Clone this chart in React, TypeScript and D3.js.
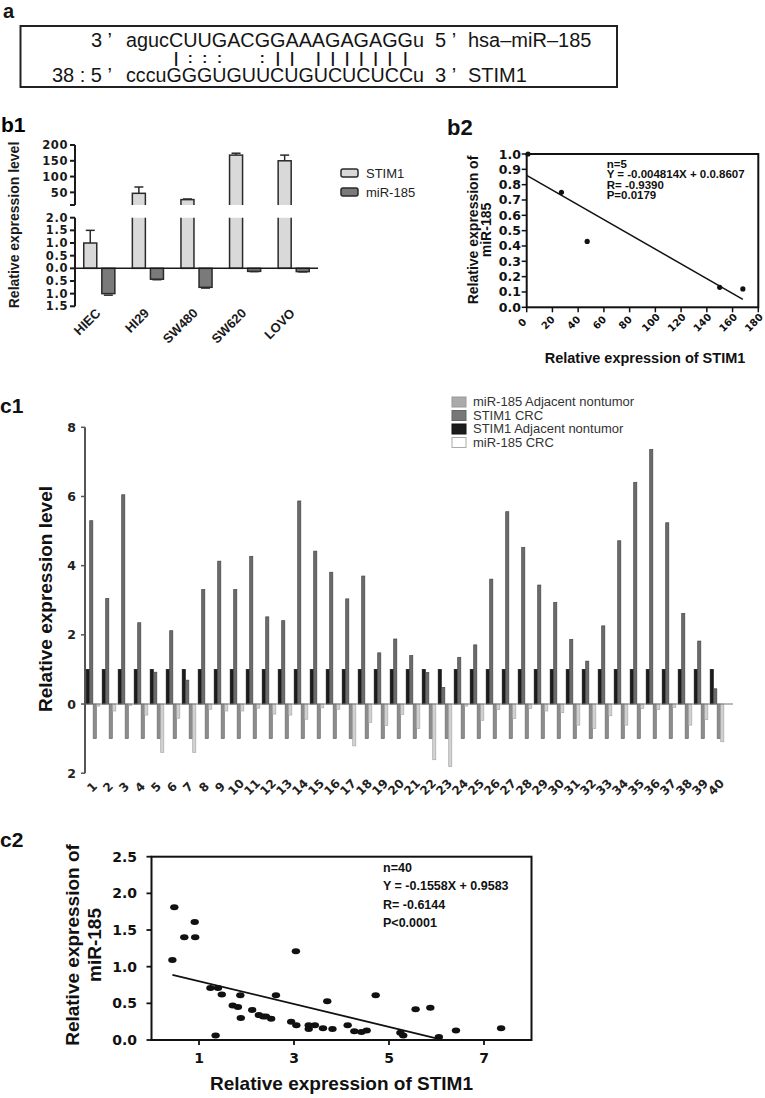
import * as d3 from "d3";

const SANS = "'Liberation Sans', Arial, Helvetica, sans-serif";
const TICK = "'DejaVu Sans', 'Liberation Sans', sans-serif";

// ---- a: seed pairing
const mirName = "hsa–miR–185";
const targetName = "STIM1";
const mirSeq = "agucCUUGACGGAAAGAGAGGu";
const pairSeq = "    |:::  :|| ||||||| ";
const targetSeq = "cccuGGGUGUUCUGUCUCUCCu";
const mirEnds = ["3 ’", "5 ’"];
const targetEnds = ["38 : 5 ’", "3 ’"];

// ---- b1 / b2: cell lines
const cellLines = ["HIEC", "HI29", "SW480", "SW620", "LOVO"];
const stimCell = [1.0, 47, 27, 168, 150];
const stimCellErr = [0.5, 20, 2, 6, 18];
const mirCell = [1.0, 0.43, 0.75, 0.12, 0.13];
const mirCellErr = [0.06, 0.02, 0.03, 0.01, 0.01];
const b1UpTicks = [200, 150, 100, 50];
const b1LoTicks = [2, 1.5, 1, 0.5, 0, -0.5, -1, -1.5];
const b2XTicks = [0, 20, 40, 60, 80, 100, 120, 140, 160, 180];
const b2YTicks = [0, 0.1, 0.2, 0.3, 0.4, 0.5, 0.6, 0.7, 0.8, 0.9, 1.0];
const b2Fit = { slope: -0.004814, intercept: 0.8607 };
const b2Notes = ["n=5", "Y = -0.004814X + 0.0.8607", "R= -0.9390", "P=0.0179"];

// ---- c1 / c2: 40 tissue pairs
const samples = ["1", "2", "3", "4", "5", "6", "7", "8", "9", "10", "11", "12", "13", "14", "15", "16", "17", "18", "19", "20",
  "21", "22", "23", "24", "25", "26", "27", "28", "29", "30", "31", "32", "33", "34", "35", "36", "37", "38", "39", "40"];
const stimAdj = [1, 1, 1, 1, 1, 1, 1, 1, 1, 1, 1, 1, 1, 1, 1, 1, 1, 1, 1, 1, 1, 1, 1, 1, 1, 1, 1, 1, 1, 1, 1, 1, 1, 1, 1, 1, 1, 1, 1, 1];
const stimCRC = [5.30, 3.05, 6.05, 2.35, 0.92, 2.12, 0.69, 3.31, 4.13, 3.31, 4.27, 2.52, 2.41, 5.87, 4.42, 3.81, 3.04, 3.70, 1.48, 1.88,
  1.40, 0.91, 0.48, 1.35, 1.71, 3.61, 5.56, 4.53, 3.44, 2.94, 1.87, 1.24, 2.26, 4.72, 6.41, 7.36, 5.24, 2.62, 1.82, 0.44];
const mirAdj = [1, 1, 1, 1, 1, 1, 1, 1, 1, 1, 1, 1, 1, 1, 1, 1, 1, 1, 1, 1, 1, 1, 1, 1, 1, 1, 1, 1, 1, 1, 1, 1, 1, 1, 1, 1, 1, 1, 1, 1];
const mirCRC = [0.06, 0.20, 0.04, 0.32, 1.40, 0.41, 1.40, 0.15, 0.20, 0.20, 0.12, 0.29, 0.32, 0.44, 0.11, 0.15, 1.21, 0.53, 0.62, 0.30,
  0.71, 1.61, 1.81, 0.06, 0.47, 0.16, 0.42, 0.13, 0.20, 0.25, 0.61, 0.71, 0.34, 0.61, 0.13, 0.16, 0.10, 0.61, 0.45, 1.09];
const c1Legend = ["miR-185 Adjacent nontumor", "STIM1 CRC", "STIM1 Adjacent nontumor", "miR-185 CRC"];
const c1YTicks = [8, 6, 4, 2, 0, -2];
const c2XTicks = [1, 3, 5, 7];
const c2YTicks = [0, 0.5, 1.0, 1.5, 2.0, 2.5];
const c2Fit = { slope: -0.1558, intercept: 0.9583 };
const c2Notes = ["n=40", "Y = -0.1558X + 0.9583", "R= -0.6144", "P<0.0001"];

let ctx: CanvasRenderingContext2D | null = null;
function textWidth(s: string, font: string) {
  if (!ctx) ctx = document.createElement("canvas").getContext("2d");
  ctx!.font = font;
  return ctx!.measureText(s).width;
}

function PanelA() {
  const font = `20px ${SANS}`;
  const seqX = 126;
  const seqW = 298;
  const k = seqW / textWidth(mirSeq, font);
  const centers = mirSeq.split("").map((c, i) => seqX + k * (textWidth(mirSeq.slice(0, i), font) + textWidth(c, font) / 2));
  const rows = [47, 63, 82];
  return (
    <g fontFamily={SANS} fill="#151515">
      <text x={3} y={18} fontSize={20} fontWeight="bold">a</text>
      <rect x={20.5} y={26} width={596.5} height={61} fill="none" stroke="#222" strokeWidth={2} />
      <g fontSize={20}>
        <text x={112} y={rows[0]} textAnchor="end">{mirEnds[0]}</text>
        <text x={seqX} y={rows[0]} textLength={seqW} lengthAdjust="spacingAndGlyphs">{mirSeq}</text>
        <text x={435} y={rows[0]}>{mirEnds[1]}</text>
        <text x={468} y={rows[0]}>{mirName}</text>
        <text x={112} y={rows[2]} textAnchor="end">{targetEnds[0]}</text>
        <text x={seqX} y={rows[2]} textLength={seqW} lengthAdjust="spacingAndGlyphs">{targetSeq}</text>
        <text x={435} y={rows[2]}>{targetEnds[1]}</text>
        <text x={468} y={rows[2]}>{targetName}</text>
      </g>
      <g fontSize={15} fontWeight="bold">
        {pairSeq.split("").map((c, i) =>
          c === " " ? null : (
            <text key={i} x={centers[i]} y={rows[1]} textAnchor="middle">{c}</text>
          ))}
      </g>
    </g>
  );
}

function PanelB1() {
  const x = d3.scaleBand<string>().domain(cellLines).range([75, 318]).paddingInner(0.36).paddingOuter(0.18);
  const sub = d3.scaleBand<string>().domain(["STIM1", "miR-185"]).range([0, x.bandwidth()]).paddingInner(0.28);
  const yUp = d3.scaleLinear().domain([10, 200]).range([205, 145]);
  const yLo = d3.scaleLinear().domain([-1.5, 2]).range([306.3, 217.7]);
  const bw = sub.bandwidth();
  const fmt = d3.format(".1f");
  const cap = 4.5;

  return (
    <g fontFamily={SANS}>
      <defs>
        <clipPath id="b1up"><rect x={70} y={138} width={260} height={67} /></clipPath>
        <clipPath id="b1lo"><rect x={70} y={217.7} width={260} height={95} /></clipPath>
      </defs>
      <text x={1} y={132} fontSize={21} fontWeight="bold">b1</text>

      {/* bars */}
      {cellLines.map((c, i) => {
        const sx = x(c)! + sub("STIM1")!;
        const mx = x(c)! + sub("miR-185")!;
        const v = stimCell[i];
        const e = stimCellErr[i];
        const m = mirCell[i];
        const me = mirCellErr[i];
        const loTop = v > 2 ? yLo(2.3) : yLo(v);
        return (
          <g key={c} stroke="#2a2a2a" strokeWidth={1.5}>
            <rect clipPath="url(#b1lo)" x={sx} y={loTop} width={bw} height={yLo(0) - loTop} fill="#d9d9d9" />
            {v > 10 && (
              <rect clipPath="url(#b1up)" x={sx} y={yUp(v)} width={bw} height={yUp(3) - yUp(v)} fill="#d9d9d9" />
            )}
            {v > 10 ? (
              <g>
                <line x1={sx + bw / 2} x2={sx + bw / 2} y1={yUp(v)} y2={yUp(v + e)} />
                <line x1={sx + bw / 2 - cap} x2={sx + bw / 2 + cap} y1={yUp(v + e)} y2={yUp(v + e)} />
              </g>
            ) : (
              <g>
                <line x1={sx + bw / 2} x2={sx + bw / 2} y1={yLo(v)} y2={yLo(v + e)} />
                <line x1={sx + bw / 2 - cap} x2={sx + bw / 2 + cap} y1={yLo(v + e)} y2={yLo(v + e)} />
              </g>
            )}
            <rect x={mx} y={yLo(0)} width={bw} height={yLo(-m) - yLo(0)} fill="#7a7a7a" />
            <line x1={mx + bw / 2 - cap} x2={mx + bw / 2 + cap} y1={yLo(-m - me)} y2={yLo(-m - me)} />
          </g>
        );
      })}

      {/* axes */}
      <g stroke="#1a1a1a" strokeWidth={2}>
        <line x1={75} x2={75} y1={yUp(200)} y2={yUp(10)} />
        <line x1={75} x2={75} y1={yLo(2)} y2={yLo(-1.5)} />
        {[...b1UpTicks, 10].map((t) => <line key={"u" + t} x1={70} x2={75} y1={yUp(t)} y2={yUp(t)} />)}
        {b1LoTicks.map((t) => <line key={"l" + t} x1={70} x2={75} y1={yLo(t)} y2={yLo(t)} />)}
      </g>
      <line x1={75} x2={318} y1={yLo(0)} y2={yLo(0)} stroke="#1a1a1a" strokeWidth={1.5} />
      <g fontFamily={TICK} fontWeight="bold" fontSize={11.5} letterSpacing={0.6} fill="#1a1a1a" textAnchor="end">
        {b1UpTicks.map((t) => <text key={t} x={68} y={yUp(t)} dy="0.36em">{t}</text>)}
        {b1LoTicks.map((t) => <text key={t} x={68} y={yLo(t)} dy="0.36em">{fmt(Math.abs(t))}</text>)}
      </g>
      <g fontWeight="bold" fontSize={13} fill="#1a1a1a" textAnchor="end">
        {cellLines.map((c) => (
          <text key={c} transform={`translate(${x(c)! + x.bandwidth() / 2 + 2},${314}) rotate(-45)`}>{c}</text>
        ))}
      </g>
      <text transform="translate(19,225) rotate(-90)" textAnchor="middle" fontSize={14} fontWeight="bold" fill="#1a1a1a">
        Relative expression level
      </text>

      {/* legend */}
      {["STIM1", "miR-185"].map((s, i) => (
        <g key={s}>
          <rect x={341} y={169 + i * 19} width={17} height={8} rx={2} fill={i === 0 ? "#d9d9d9" : "#7a7a7a"} stroke="#2a2a2a" strokeWidth={1.5} />
          <text x={366} y={178 + i * 19} fontSize={13} fill="#222">{s}</text>
        </g>
      ))}
    </g>
  );
}

function PanelB2() {
  const x = d3.scaleLinear().domain([0, 180]).range([526.7, 758.3]);
  const y = d3.scaleLinear().domain([0, 1]).range([307.3, 154]);
  const fmt = d3.format(".1f");
  const xMax = d3.max(stimCell)!;
  return (
    <g fontFamily={SANS} fill="#111">
      <text x={447} y={135} fontSize={22} fontWeight="bold">b2</text>
      <rect x={x(0)} y={y(1)} width={x(180) - x(0)} height={y(0) - y(1)} fill="none" stroke="#111" strokeWidth={2} />
      <g stroke="#111" strokeWidth={1.5}>
        {b2YTicks.map((t) => <line key={t} x1={x(0) - 5} x2={x(0)} y1={y(t)} y2={y(t)} />)}
        {b2XTicks.map((t) => <line key={t} x1={x(t)} x2={x(t)} y1={y(0)} y2={y(0) + 5} />)}
      </g>
      <g fontFamily={TICK} fontWeight="bold" fontSize={12.5} textAnchor="end">
        {b2YTicks.map((t) => <text key={t} x={521} y={y(t)} dy="0.36em">{fmt(t)}</text>)}
      </g>
      <g fontFamily={TICK} fontWeight="bold" fontSize={10} textAnchor="middle">
        {b2XTicks.map((t) => (
          <text key={t} transform={`translate(${x(t) - 2},${325}) rotate(-45)`}>{t}</text>
        ))}
      </g>
      <line x1={x(0)} y1={y(b2Fit.intercept)} x2={x(xMax)} y2={y(b2Fit.intercept + b2Fit.slope * xMax)} stroke="#111" strokeWidth={1.5} />
      {stimCell.map((v, i) => <circle key={i} cx={x(v)} cy={y(mirCell[i])} r={2.6} fill="#111" />)}
      <g fontSize={11.5} fontWeight="bold">
        {b2Notes.map((n, i) => <text key={i} x={606.7} y={167.5 + i * 10.6}>{n}</text>)}
      </g>
      <text x={645} y={363} textAnchor="middle" fontSize={14.5} fontWeight="bold">Relative expression of STIM1</text>
      <g fontSize={14} fontWeight="bold" textAnchor="middle">
        <text transform="translate(478,230) rotate(-90)">Relative expression of</text>
        <text transform="translate(491,230) rotate(-90)">miR-185</text>
      </g>
    </g>
  );
}

function PanelC1() {
  const x = d3.scaleBand<string>().domain(samples).range([85, 725]).paddingInner(0.125).paddingOuter(0.0625);
  const keys = ["stimAdj", "stimCRC", "mirAdj", "mirCRC"];
  const sub = d3.scaleBand<string>().domain(keys).range([0, x.bandwidth()]);
  const y = d3.scaleLinear().domain([-2, 8]).range([773.2, 427.3]);
  const series = [
    { key: "stimAdj", values: stimAdj, fill: "#1c1c1c", stroke: "#111" },
    { key: "stimCRC", values: stimCRC, fill: "#6c6c6c", stroke: "#454545" },
    { key: "mirAdj", values: mirAdj.map((v) => -v), fill: "#8e8e8e", stroke: "#6a6a6a" },
    { key: "mirCRC", values: mirCRC.map((v) => -v), fill: "#d2d2d2", stroke: "#a8a8a8" },
  ];
  const legendFill: Record<string, [string, string]> = {
    "miR-185 Adjacent nontumor": ["#ababab", "#999"],
    "STIM1 CRC": ["#777", "#666"],
    "STIM1 Adjacent nontumor": ["#1c1c1c", "#111"],
    "miR-185 CRC": ["#fff", "#aaa"],
  };
  const bw = sub.bandwidth();
  return (
    <g fontFamily={SANS}>
      <text x={0} y={413} fontSize={21} fontWeight="bold" fill="#111">c1</text>
      {series.map((s) => (
        <g key={s.key} fill={s.fill} stroke={s.stroke} strokeWidth={0.7}>
          {samples.map((id, i) => {
            const v = s.values[i];
            const y0 = y(Math.max(0, v));
            const y1 = y(Math.min(0, v));
            return <rect key={id} x={x(id)! + sub(s.key)! + 0.2} y={y0} width={bw - 0.4} height={y1 - y0} />;
          })}
        </g>
      ))}
      <line x1={85} x2={733} y1={y(0)} y2={y(0)} stroke="#777" strokeWidth={1.2} />
      <line x1={85} x2={85} y1={y(8)} y2={y(-2)} stroke="#555" strokeWidth={2} />
      <g stroke="#555" strokeWidth={1.5}>
        {c1YTicks.map((t) => <line key={t} x1={81} x2={85} y1={y(t)} y2={y(t)} />)}
      </g>
      <g fontFamily={TICK} fontWeight="bold" fontSize={12.5} fill="#222" textAnchor="end">
        {c1YTicks.map((t) => <text key={t} x={76} y={y(t)} dy="0.36em">{Math.abs(t)}</text>)}
      </g>
      <g fontFamily={TICK} fontWeight="bold" fontSize={12} fill="#222" textAnchor="middle">
        {samples.map((id) => (
          <text key={id} transform={`translate(${x(id)! + x.bandwidth() / 2 + 2},${790}) rotate(-45)`}>{id}</text>
        ))}
      </g>
      <text transform="translate(52,599) rotate(-90)" textAnchor="middle" fontSize={19} fontWeight="bold" fill="#111">
        Relative expression level
      </text>
      {c1Legend.map((l, i) => (
        <g key={l}>
          <rect x={452} y={397 + i * 13.5} width={14} height={10} fill={legendFill[l][0]} stroke={legendFill[l][1]} strokeWidth={1} />
          <text x={473} y={406 + i * 13.5} fontSize={13} fill="#333">{l}</text>
        </g>
      ))}
    </g>
  );
}

function PanelC2() {
  const x = d3.scaleLinear().domain([0, 8]).range([151.5, 531.5]);
  const y = d3.scaleLinear().domain([0, 2.5]).range([1040, 856.7]);
  const fmt = d3.format(".1f");
  const xMin = d3.min(stimCRC)!;
  const xZero = -c2Fit.intercept / c2Fit.slope;
  return (
    <g fontFamily={SANS} fill="#111">
      <text x={0} y={847} fontSize={21} fontWeight="bold">c2</text>
      <rect x={x(0)} y={y(2.5)} width={x(8) - x(0)} height={y(0) - y(2.5)} fill="none" stroke="#111" strokeWidth={2} />
      <g stroke="#111" strokeWidth={1.8}>
        {c2YTicks.map((t) => <line key={t} x1={x(0) - 5} x2={x(0)} y1={y(t)} y2={y(t)} />)}
        {c2XTicks.map((t) => <line key={t} x1={x(t)} x2={x(t)} y1={y(0)} y2={y(0) + 5} />)}
      </g>
      <g fontFamily={TICK} fontWeight="bold" fontSize={14}>
        {c2YTicks.map((t) => <text key={t} x={137} y={y(t)} dy="0.36em" textAnchor="end">{fmt(t)}</text>)}
        {c2XTicks.map((t) => <text key={t} x={x(t)} y={1063} textAnchor="middle">{t}</text>)}
      </g>
      <line x1={x(xMin)} y1={y(c2Fit.intercept + c2Fit.slope * xMin)} x2={x(xZero)} y2={y(0)} stroke="#111" strokeWidth={1.8} />
      {stimCRC.map((v, i) => <ellipse key={i} cx={x(v)} cy={y(mirCRC[i])} rx={4.2} ry={3} fill="#111" />)}
      <g fontSize={12.5} fontWeight="bold">
        {c2Notes.map((n, i) => <text key={i} x={383} y={871.5 + i * 18.6}>{n}</text>)}
      </g>
      <text x={341.5} y={1090} textAnchor="middle" fontSize={19} fontWeight="bold">Relative expression of STIM1</text>
      <g fontSize={19} fontWeight="bold" textAnchor="middle">
        <text transform="translate(79,945) rotate(-90)">Relative expression of</text>
        <text transform="translate(101,945) rotate(-90)">miR-185</text>
      </g>
    </g>
  );
}

export default function App() {
  return (
    <svg width={765} height={1098} style={{ position: "absolute", left: 0, top: 0, background: "#fff" }}>
      <PanelA />
      <PanelB1 />
      <PanelB2 />
      <PanelC1 />
      <PanelC2 />
    </svg>
  );
}
